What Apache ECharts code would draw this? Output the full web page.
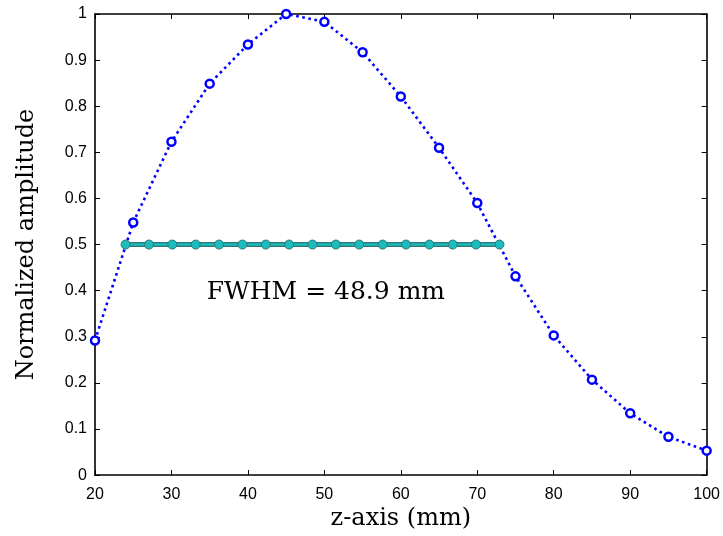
<!DOCTYPE html>
<html>
<head>
<meta charset="utf-8">
<style>
  html, body { margin: 0; padding: 0; background: #fff; }
  #chart { width: 723px; height: 536px; }
</style>
<script src="https://cdn.jsdelivr.net/npm/echarts@6/dist/echarts.min.js"></script>
</head>
<body>
<div id="chart"></div>
<script>
// Axial beam profile along z, normalised to its peak
const zPositions = [20, 25, 30, 35, 40, 45, 50, 55, 60, 65, 70, 75, 80, 85, 90, 95, 100];
const amplitude  = [0.292, 0.548, 0.723, 0.849, 0.934, 1.0, 0.983, 0.917, 0.821, 0.71, 0.59, 0.431, 0.303, 0.207, 0.134, 0.083, 0.053];

// Half-maximum level, sampled across the full width
const fwhmZ = [24.0, 27.06, 30.11, 33.17, 36.23, 39.28, 42.34, 45.39, 48.45, 51.51, 54.56, 57.62, 60.68, 63.73, 66.79, 69.84, 72.9];
const fwhmLevel = [0.5, 0.5, 0.5, 0.5, 0.5, 0.5, 0.5, 0.5, 0.5, 0.5, 0.5, 0.5, 0.5, 0.5, 0.5, 0.5, 0.5];

const fwhmText = 'FWHM = 48.9 mm';
const fwhmTextAt = [50.2, 0.395];

const xTitle = 'z-axis (mm)';
const yTitle = 'Normalized amplitude';

const serif = 'DejaVu Serif';
const sans = 'Liberation Sans';

const chart = echarts.init(document.getElementById('chart'));

const pairs = (xs, ys) => xs.map((x, i) => [x, ys[i]]);

const frameLine = { show: true, onZero: false, lineStyle: { color: '#000', width: 1.6 } };
const innerTick = { show: true, inside: true, length: 5, lineStyle: { color: '#000', width: 1 } };

chart.setOption({
  animation: false,
  backgroundColor: '#ffffff',
  grid: { left: 95, right: 15, top: 14, bottom: 53, containLabel: false },
  xAxis: [
    {
      type: 'value', min: 20, max: 100, interval: 10, position: 'bottom',
      axisLine: frameLine, axisTick: innerTick, splitLine: { show: false },
      axisLabel: { color: '#000', fontFamily: sans, fontSize: 16, margin: 11 },
      name: xTitle, nameLocation: 'middle', nameGap: 27,
      nameTextStyle: { color: '#000', fontFamily: serif, fontSize: 24 }
    },
    {
      type: 'value', min: 20, max: 100, interval: 10, position: 'top',
      axisLine: frameLine, axisTick: innerTick, axisLabel: { show: false }, splitLine: { show: false }
    }
  ],
  yAxis: [
    {
      type: 'value', min: 0, max: 1, interval: 0.1, position: 'left',
      axisLine: frameLine, axisTick: innerTick, splitLine: { show: false },
      axisLabel: { color: '#000', fontFamily: sans, fontSize: 16, margin: 8 },
      name: yTitle, nameLocation: 'middle', nameGap: 56,
      nameTextStyle: { color: '#000', fontFamily: serif, fontSize: 24 }
    },
    {
      type: 'value', min: 0, max: 1, interval: 0.1, position: 'right',
      axisLine: frameLine, axisTick: innerTick, axisLabel: { show: false }, splitLine: { show: false }
    }
  ],
  series: [
    {
      type: 'line',
      data: pairs(zPositions, amplitude),
      symbol: 'circle', symbolSize: 8,
      lineStyle: { color: '#0000ff', width: 2.6, type: [2.6, 3.6], cap: 'butt' },
      itemStyle: { color: '#ffffff', borderColor: '#0000ff', borderWidth: 2.5 },
      z: 2
    },
    {
      type: 'line',
      data: pairs(fwhmZ, fwhmLevel),
      symbol: 'none',
      lineStyle: { color: '#2d7777', width: 5 },
      z: 3
    },
    {
      type: 'line',
      data: pairs(fwhmZ, fwhmLevel),
      symbol: 'circle', symbolSize: 9,
      lineStyle: { color: '#1cbaba', width: 2.5 },
      itemStyle: { color: '#1cbcbc', borderColor: '#2d7777', borderWidth: 1 },
      z: 4
    }
  ]
});

const anchor = chart.convertToPixel({ xAxisIndex: 0, yAxisIndex: 0 }, fwhmTextAt);
chart.setOption({
  graphic: [{
    type: 'text',
    x: anchor[0], y: anchor[1],
    style: {
      text: fwhmText, fill: '#000', font: '25px "' + serif + '"',
      textAlign: 'center', textVerticalAlign: 'middle'
    },
    z: 10
  }]
});
</script>
</body>
</html>
